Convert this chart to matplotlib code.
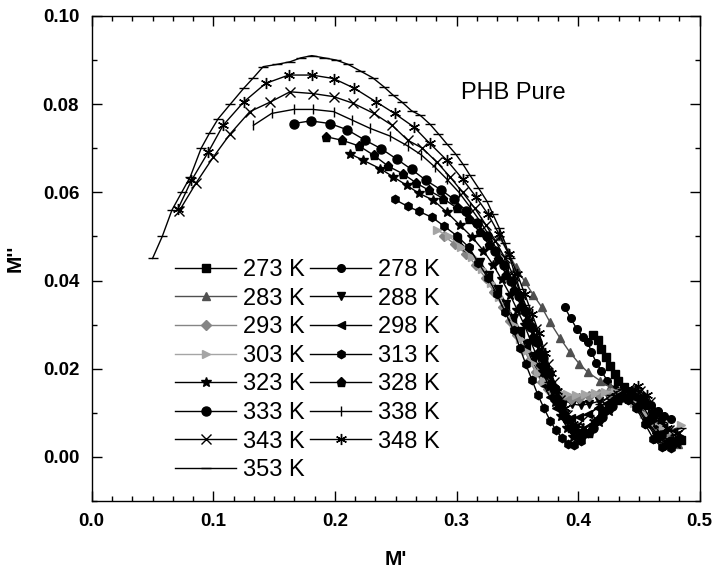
import matplotlib
matplotlib.use("Agg")
import matplotlib.pyplot as plt
from matplotlib.ticker import MultipleLocator, AutoMinorLocator, FormatStrFormatter

plt.rcParams['font.family'] = ['Liberation Sans', 'DejaVu Sans']

# M' / M'', one pair of lists per temperature
x273 = [0.412, 0.416, 0.419, 0.423, 0.426, 0.430, 0.433, 0.438, 0.443, 0.449, 0.455, 0.461, 0.467, 0.473, 0.479, 0.485]
y273 = [0.0277, 0.0265, 0.0245, 0.0226, 0.0207, 0.0188, 0.0173, 0.0158, 0.0145, 0.0132, 0.0118, 0.0098, 0.0075, 0.0055, 0.0042, 0.0038]

x278 = [0.389, 0.394, 0.399, 0.404, 0.408, 0.411, 0.415, 0.419, 0.424, 0.430, 0.436, 0.442, 0.448, 0.454, 0.460, 0.466, 0.471, 0.476]
y278 = [0.0339, 0.0314, 0.029, 0.0272, 0.026, 0.0237, 0.0214, 0.0195, 0.0173, 0.0155, 0.0145, 0.014, 0.0135, 0.0128, 0.0118, 0.0105, 0.0093, 0.0085]

x283 = [0.335, 0.342, 0.349, 0.356, 0.363, 0.370, 0.377, 0.385, 0.393, 0.401, 0.408, 0.418, 0.426, 0.434, 0.442, 0.450, 0.458, 0.466, 0.474, 0.482]
y283 = [0.050, 0.0465, 0.043, 0.0398, 0.0368, 0.034, 0.0305, 0.027, 0.0238, 0.0211, 0.0192, 0.0173, 0.0158, 0.0148, 0.0138, 0.0118, 0.009, 0.006, 0.004, 0.003]

x288 = [0.310, 0.319, 0.327, 0.334, 0.341, 0.347, 0.353, 0.358, 0.363, 0.368, 0.373, 0.378, 0.383, 0.389, 0.395, 0.402, 0.409, 0.417, 0.425, 0.433, 0.441, 0.449, 0.457, 0.465, 0.473, 0.481]
y288 = [0.047, 0.0443, 0.0413, 0.038, 0.0347, 0.0315, 0.0285, 0.0255, 0.0228, 0.0203, 0.018, 0.016, 0.0143, 0.0128, 0.012, 0.0117, 0.012, 0.0126, 0.0133, 0.0138, 0.0135, 0.012, 0.009, 0.006, 0.0038, 0.0035]

x293 = [0.290, 0.299, 0.308, 0.316, 0.324, 0.331, 0.338, 0.344, 0.350, 0.355, 0.360, 0.365, 0.370, 0.375, 0.381, 0.387, 0.394, 0.401, 0.409, 0.417, 0.425, 0.433, 0.441, 0.449, 0.457, 0.465, 0.473, 0.481]
y293 = [0.050, 0.0482, 0.046, 0.0435, 0.0405, 0.0373, 0.034, 0.0308, 0.0276, 0.0247, 0.0218, 0.0193, 0.017, 0.0153, 0.0142, 0.0135, 0.0132, 0.0133, 0.0137, 0.0142, 0.0146, 0.0145, 0.0132, 0.011, 0.008, 0.0055, 0.0042, 0.0045]

x298 = [0.300, 0.309, 0.318, 0.326, 0.333, 0.340, 0.346, 0.352, 0.357, 0.362, 0.367, 0.372, 0.377, 0.382, 0.388, 0.394, 0.401, 0.408, 0.416, 0.424, 0.432, 0.440, 0.448, 0.456, 0.464, 0.472, 0.480]
y298 = [0.0495, 0.047, 0.0442, 0.041, 0.0378, 0.0345, 0.0312, 0.028, 0.025, 0.022, 0.019, 0.0162, 0.0135, 0.0112, 0.0095, 0.0088, 0.009, 0.0098, 0.011, 0.0123, 0.0133, 0.0133, 0.0115, 0.0085, 0.0055, 0.0035, 0.0035]

x303 = [0.284, 0.294, 0.304, 0.313, 0.321, 0.328, 0.335, 0.341, 0.347, 0.352, 0.357, 0.362, 0.367, 0.372, 0.378, 0.384, 0.391, 0.398, 0.406, 0.414, 0.422, 0.430, 0.438, 0.446, 0.454, 0.462, 0.470, 0.478, 0.485]
y303 = [0.0514, 0.050, 0.0475, 0.0453, 0.0425, 0.0395, 0.0362, 0.033, 0.0298, 0.0268, 0.024, 0.0213, 0.019, 0.0172, 0.0158, 0.0148, 0.0142, 0.014, 0.0142, 0.0145, 0.0148, 0.0148, 0.014, 0.0122, 0.0098, 0.0078, 0.0065, 0.0062, 0.0072]

x313 = [0.249, 0.260, 0.269, 0.280, 0.290, 0.300, 0.310, 0.318, 0.326, 0.333, 0.340, 0.347, 0.352, 0.357, 0.362, 0.367, 0.372, 0.377, 0.382, 0.387, 0.392, 0.397, 0.402, 0.408, 0.414, 0.420, 0.427, 0.434, 0.441, 0.448, 0.455, 0.462, 0.469, 0.476, 0.483]
y313 = [0.0584, 0.0568, 0.0557, 0.0543, 0.0523, 0.0502, 0.0476, 0.0440, 0.0405, 0.037, 0.0328, 0.0287, 0.0248, 0.021, 0.0175, 0.014, 0.011, 0.0082, 0.006, 0.0042, 0.003, 0.0027, 0.0035, 0.0055, 0.0078, 0.0102, 0.0123, 0.0135, 0.013, 0.011, 0.0075, 0.004, 0.0022, 0.002, 0.0038]

x323 = [0.212, 0.223, 0.237, 0.248, 0.259, 0.269, 0.281, 0.292, 0.303, 0.313, 0.322, 0.330, 0.337, 0.344, 0.350, 0.356, 0.361, 0.366, 0.371, 0.376, 0.381, 0.386, 0.391, 0.396, 0.402, 0.409, 0.417, 0.425, 0.433, 0.441, 0.449, 0.457, 0.465, 0.473, 0.481]
y323 = [0.0688, 0.0673, 0.0654, 0.0635, 0.0616, 0.0598, 0.0582, 0.0555, 0.0525, 0.0498, 0.0468, 0.0436, 0.0403, 0.0368, 0.0333, 0.0298, 0.0263, 0.0228, 0.0193, 0.0158, 0.0125, 0.0092, 0.0065, 0.0045, 0.004, 0.0055, 0.008, 0.0105, 0.0128, 0.0132, 0.011, 0.0075, 0.004, 0.0025, 0.003]

x328 = [0.193, 0.206, 0.220, 0.232, 0.244, 0.256, 0.267, 0.277, 0.289, 0.300, 0.310, 0.319, 0.327, 0.334, 0.341, 0.347, 0.353, 0.358, 0.363, 0.368, 0.373, 0.378, 0.383, 0.388, 0.394, 0.401, 0.409, 0.417, 0.425, 0.433, 0.441, 0.449, 0.457, 0.465, 0.473, 0.481]
y328 = [0.0726, 0.0718, 0.0705, 0.0684, 0.0659, 0.0642, 0.0621, 0.0605, 0.0586, 0.0565, 0.054, 0.051, 0.048, 0.0448, 0.0413, 0.0378, 0.0343, 0.0308, 0.0273, 0.0238, 0.0203, 0.0168, 0.0133, 0.0098, 0.0065, 0.0045, 0.0055, 0.0085, 0.011, 0.013, 0.0135, 0.0115, 0.008, 0.0045, 0.003, 0.0035]

x333 = [0.166, 0.180, 0.196, 0.210, 0.225, 0.238, 0.251, 0.263, 0.275, 0.287, 0.298, 0.308, 0.317, 0.325, 0.332, 0.339, 0.345, 0.351, 0.356, 0.361, 0.366, 0.371, 0.376, 0.381, 0.386, 0.391, 0.397, 0.404, 0.412, 0.420, 0.428, 0.436, 0.444, 0.452, 0.460, 0.468, 0.476, 0.484]
y333 = [0.0756, 0.0762, 0.0756, 0.0742, 0.0718, 0.0699, 0.0675, 0.0652, 0.0627, 0.0606, 0.0584, 0.0558, 0.053, 0.050, 0.0468, 0.0435, 0.040, 0.0365, 0.033, 0.0295, 0.026, 0.0225, 0.019, 0.0155, 0.012, 0.0085, 0.006, 0.0055, 0.0065, 0.009, 0.0115, 0.0135, 0.014, 0.012, 0.0085, 0.005, 0.0035, 0.004]

x338 = [0.133, 0.148, 0.166, 0.182, 0.199, 0.214, 0.229, 0.245, 0.260, 0.271, 0.282, 0.292, 0.302, 0.311, 0.320, 0.328, 0.335, 0.342, 0.348, 0.354, 0.360, 0.365, 0.370, 0.375, 0.380, 0.385, 0.390, 0.396, 0.403, 0.411, 0.420, 0.429, 0.438, 0.447, 0.456, 0.464, 0.472, 0.480]
y338 = [0.0752, 0.0779, 0.0788, 0.0788, 0.0783, 0.0764, 0.0745, 0.0728, 0.0705, 0.0685, 0.0658, 0.063, 0.060, 0.0567, 0.0532, 0.0497, 0.046, 0.0422, 0.0385, 0.0347, 0.031, 0.0272, 0.0235, 0.0198, 0.016, 0.0125, 0.0095, 0.007, 0.006, 0.0075, 0.0105, 0.0132, 0.015, 0.0152, 0.013, 0.0095, 0.0065, 0.0055]

x343 = [0.072, 0.086, 0.100, 0.114, 0.130, 0.147, 0.163, 0.182, 0.199, 0.215, 0.232, 0.247, 0.260, 0.272, 0.284, 0.295, 0.305, 0.315, 0.324, 0.332, 0.340, 0.347, 0.353, 0.359, 0.365, 0.370, 0.375, 0.380, 0.385, 0.391, 0.398, 0.406, 0.415, 0.424, 0.433, 0.442, 0.451, 0.459, 0.467, 0.475, 0.483]
y343 = [0.0558, 0.0622, 0.068, 0.0733, 0.0783, 0.0805, 0.0828, 0.0824, 0.0817, 0.0802, 0.0779, 0.0752, 0.0718, 0.070, 0.0668, 0.0634, 0.060, 0.0564, 0.0527, 0.049, 0.045, 0.041, 0.037, 0.033, 0.029, 0.025, 0.021, 0.017, 0.013, 0.0095, 0.0068, 0.0065, 0.0085, 0.0115, 0.014, 0.0155, 0.015, 0.0125, 0.009, 0.006, 0.0055]

x348 = [0.071, 0.082, 0.096, 0.108, 0.125, 0.143, 0.162, 0.181, 0.199, 0.216, 0.234, 0.249, 0.265, 0.278, 0.292, 0.305, 0.316, 0.326, 0.335, 0.343, 0.350, 0.356, 0.362, 0.368, 0.373, 0.378, 0.383, 0.389, 0.396, 0.404, 0.413, 0.422, 0.431, 0.440, 0.449, 0.457, 0.465, 0.473, 0.481]
y348 = [0.0563, 0.0627, 0.0692, 0.0752, 0.0805, 0.0847, 0.0866, 0.0866, 0.0858, 0.0836, 0.0805, 0.0779, 0.0748, 0.0711, 0.0673, 0.063, 0.059, 0.055, 0.0505, 0.046, 0.0415, 0.037, 0.0325, 0.028, 0.0235, 0.019, 0.015, 0.011, 0.0075, 0.0065, 0.008, 0.011, 0.0138, 0.0155, 0.016, 0.014, 0.010, 0.0065, 0.0055]

x353 = [0.050, 0.058, 0.066, 0.074, 0.081, 0.090, 0.097, 0.104, 0.114, 0.125, 0.133, 0.141, 0.152, 0.163, 0.172, 0.181, 0.191, 0.201, 0.211, 0.221, 0.231, 0.240, 0.248, 0.255, 0.263, 0.270, 0.278, 0.285, 0.292, 0.299, 0.305, 0.311, 0.318, 0.325, 0.330, 0.335, 0.340, 0.344, 0.348, 0.352, 0.356, 0.360, 0.364, 0.368, 0.372, 0.376, 0.380, 0.384, 0.389, 0.395, 0.401, 0.409, 0.418, 0.427, 0.436, 0.445, 0.453, 0.461, 0.469, 0.477, 0.485]
y353 = [0.045, 0.050, 0.056, 0.060, 0.0635, 0.070, 0.0735, 0.0767, 0.080, 0.0836, 0.086, 0.0885, 0.089, 0.0896, 0.0905, 0.091, 0.0905, 0.090, 0.089, 0.0875, 0.086, 0.084, 0.082, 0.0805, 0.0785, 0.0775, 0.0755, 0.0733, 0.071, 0.0688, 0.0665, 0.0639, 0.061, 0.058, 0.055, 0.052, 0.0485, 0.045, 0.0415, 0.038, 0.0345, 0.031, 0.0275, 0.024, 0.0205, 0.017, 0.014, 0.011, 0.0085, 0.0072, 0.0075, 0.0095, 0.012, 0.014, 0.0153, 0.0155, 0.014, 0.011, 0.008, 0.006, 0.0065]

labels = ['273 K', '278 K', '283 K', '288 K', '293 K', '298 K', '303 K', '313 K',
          '323 K', '328 K', '333 K', '338 K', '343 K', '348 K', '353 K']
xs = [x273, x278, x283, x288, x293, x298, x303, x313, x323, x328, x333, x338, x343, x348, x353]
ys = [y273, y278, y283, y288, y293, y298, y303, y313, y323, y328, y333, y338, y343, y348, y353]

# symbol / colour per series (Origin-like sequence)
markers = ['s', 'o', '^', 'v', 'D', '<', '>', 'h', '*', 'p', 'o', '|', 'x', (6, 2, 0), '_']
sizes = [6, 5.5, 6, 6, 5, 6, 6, 6, 7, 6.5, 6.5, 7, 7, 8, 7]
colors = ['black', 'black', '#505050', 'black', '#858585', 'black', '#a5a5a5', 'black',
          'black', 'black', 'black', 'black', 'black', 'black', 'black']

fig = plt.figure(figsize=(7.15, 5.68), dpi=100)
ax = fig.add_axes([0.1283, 0.1180, 0.8503, 0.8539])

handles = []
for x, y, lab, m, ms, c in zip(xs, ys, labels, markers, sizes, colors):
    line, = ax.plot(x, y, color=c, marker=m, markersize=ms, linewidth=1.0,
                    markeredgewidth=1.0, label=lab)
    handles.append(line)

ax.set_xlim(0.0, 0.5)
ax.set_ylim(-0.01, 0.10)
ax.xaxis.set_major_locator(MultipleLocator(0.1))
ax.xaxis.set_minor_locator(AutoMinorLocator(6))
ax.yaxis.set_major_locator(MultipleLocator(0.02))
ax.yaxis.set_minor_locator(AutoMinorLocator(2))
ax.xaxis.set_major_formatter(FormatStrFormatter('%.1f'))
ax.yaxis.set_major_formatter(FormatStrFormatter('%.2f'))
ax.tick_params(which='both', direction='in', top=True, right=True, width=1.0)
ax.tick_params(which='major', length=7, labelsize=13.5, pad=9)
ax.tick_params(which='minor', length=3.5)
for t in ax.get_xticklabels() + ax.get_yticklabels():
    t.set_fontweight('bold')
for s in ax.spines.values():
    s.set_linewidth(1.0)

ax.set_xlabel("M'", fontsize=15, fontweight='bold', labelpad=14)
ax.set_ylabel("M''", fontsize=15, fontweight='bold', labelpad=13)

ax.text(0.304, 0.0825, 'PHB Pure', fontsize=17, va='center', ha='left')

order = ['273 K', '283 K', '293 K', '303 K', '323 K', '333 K', '343 K', '353 K',
         '278 K', '288 K', '298 K', '313 K', '328 K', '338 K', '348 K']
hmap = dict(zip(labels, handles))
ax.legend([hmap[k] for k in order], order, ncol=2, loc='upper left',
          bbox_to_anchor=(0.137, 0.499), frameon=False, fontsize=17,
          handlelength=2.6, handletextpad=0.3, columnspacing=0.2,
          labelspacing=0.28, borderpad=0, borderaxespad=0)

fig.savefig('out.png', dpi=100)
